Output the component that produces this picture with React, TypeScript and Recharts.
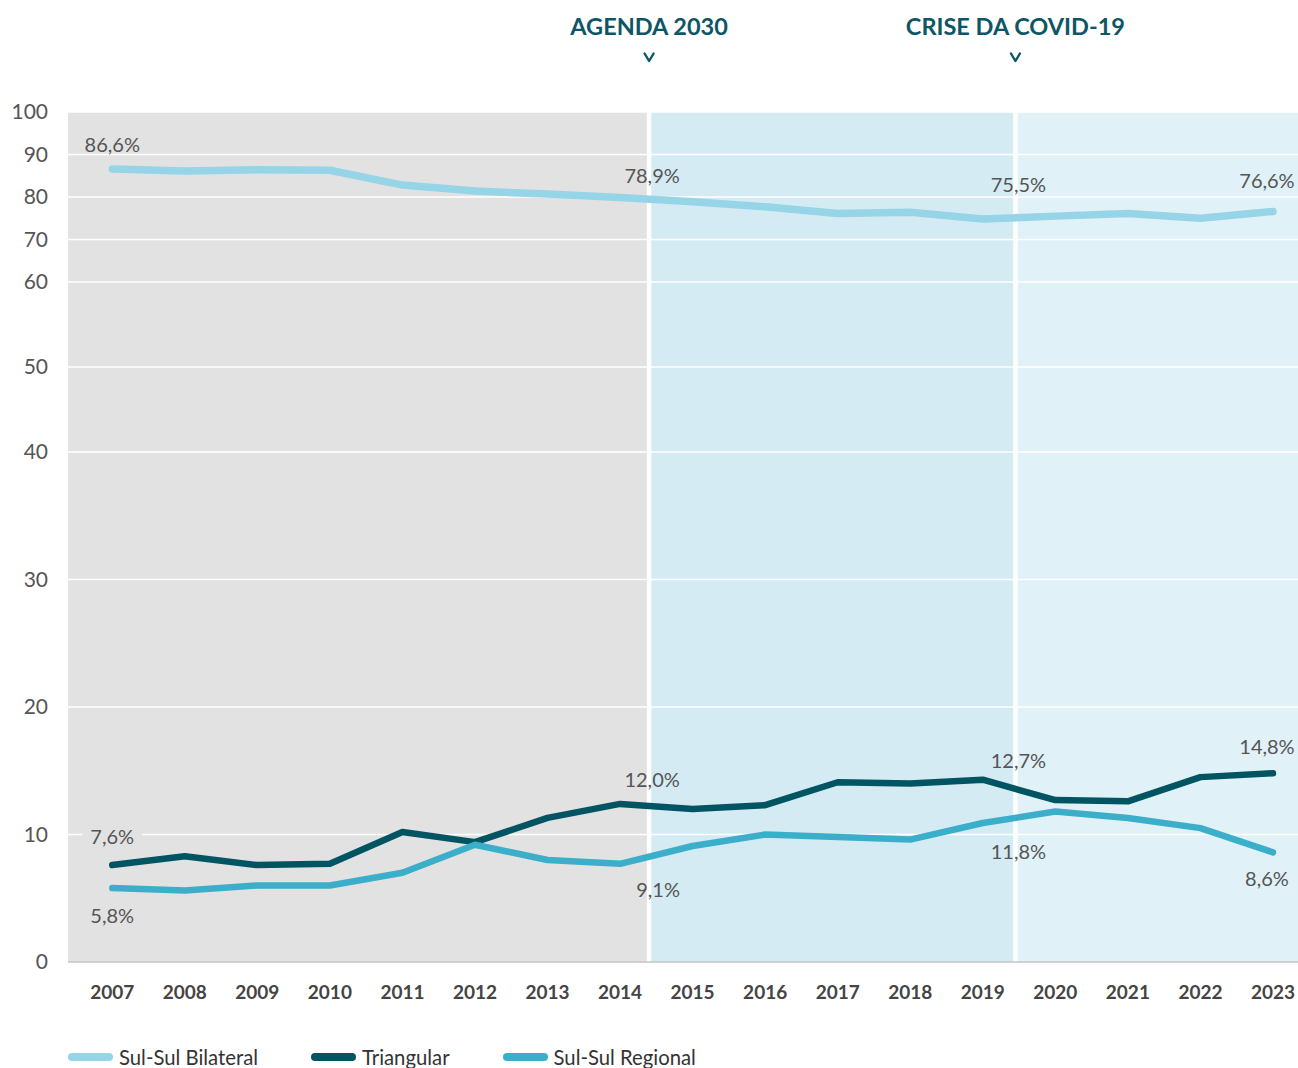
import React from 'react';
import {
  LineChart,
  Line,
  XAxis,
  YAxis,
  ReferenceArea,
  ReferenceLine,
  ReferenceDot,
  Legend,
} from 'recharts';

// ---------------- data ----------------
const YEARS = [2007, 2008, 2009, 2010, 2011, 2012, 2013, 2014, 2015, 2016, 2017, 2018, 2019, 2020, 2021, 2022, 2023];
const BILATERAL = [86.6, 86.1, 86.4, 86.3, 82.8, 81.4, 80.7, 79.9, 78.9, 77.7, 76.1, 76.4, 74.8, 75.5, 76.1, 75.0, 76.6];
const TRIANGULAR = [7.6, 8.3, 7.6, 7.7, 10.2, 9.4, 11.3, 12.4, 12.0, 12.3, 14.1, 14.0, 14.3, 12.7, 12.6, 14.5, 14.8];
const REGIONAL = [5.8, 5.6, 6.0, 6.0, 7.0, 9.2, 8.0, 7.7, 9.1, 10.0, 9.8, 9.6, 10.9, 11.8, 11.3, 10.5, 8.6];
const Y_TICKS = [0, 10, 20, 30, 40, 50, 60, 70, 80, 90, 100];
const GRID_VALUES = [10, 20, 30, 40, 50, 60, 70, 80, 90, 100];
const EVENT_LABELS = ['AGENDA 2030', 'CRISE DA COVID-19'];
const EVENT_YEARS = [2014.4, 2019.45];
const X_DOMAIN = [2006.39, 2023.345];

// Y axis breaks: value breakpoints and the share of the axis height they reach
const Y_BREAKS = [0, 40, 60, 100];
const Y_BREAK_SHARE = [0, 0.6, 0.8, 1];

// ---------------- config ----------------
const SERIES = [
  { key: 'bilateral', name: 'Sul-Sul Bilateral', color: '#96d4e7', width: 7.5, values: BILATERAL },
  { key: 'triangular', name: 'Triangular', color: '#015462', width: 6.5, values: TRIANGULAR },
  { key: 'regional', name: 'Sul-Sul Regional', color: '#3bafc9', width: 6.5, values: REGIONAL },
];

// which values get a label, and where (anchor: year of point, or an event line)
const LABEL_LAYOUT = [
  { key: 'bilateral', year: 2007, anchor: 'point', dx: 0, dy: -24 },
  { key: 'bilateral', year: 2015, anchor: 'agenda', dx: 3, dy: -26 },
  { key: 'bilateral', year: 2020, anchor: 'covid', dx: 3, dy: -31 },
  { key: 'bilateral', year: 2023, anchor: 'point', dx: -6, dy: -31 },
  { key: 'triangular', year: 2007, anchor: 'point', dx: 0, dy: -28, bg: '#e2e2e2' },
  { key: 'triangular', year: 2015, anchor: 'agenda', dx: 3, dy: -29 },
  { key: 'triangular', year: 2020, anchor: 'covid', dx: 3, dy: -39 },
  { key: 'triangular', year: 2023, anchor: 'point', dx: -6, dy: -27 },
  { key: 'regional', year: 2007, anchor: 'point', dx: 0, dy: 28 },
  { key: 'regional', year: 2015, anchor: 'agenda', dx: 9, dy: 44 },
  { key: 'regional', year: 2020, anchor: 'covid', dx: 3, dy: 40 },
  { key: 'regional', year: 2023, anchor: 'point', dx: -6, dy: 26 },
];

const FONT = 'Lato, "Open Sans", sans-serif';

// ---------------- piecewise linear y scale ----------------
function piecewiseScale(): any {
  let dom: number[] = [0, 100];
  let rng: number[] = [0, 1];
  const frac = (v: number) => {
    for (let i = 1; i < Y_BREAKS.length; i++) {
      if (v <= Y_BREAKS[i] || i === Y_BREAKS.length - 1) {
        const t = (v - Y_BREAKS[i - 1]) / (Y_BREAKS[i] - Y_BREAKS[i - 1]);
        return Y_BREAK_SHARE[i - 1] + t * (Y_BREAK_SHARE[i] - Y_BREAK_SHARE[i - 1]);
      }
    }
    return 1;
  };
  const unfrac = (f: number) => {
    for (let i = 1; i < Y_BREAK_SHARE.length; i++) {
      if (f <= Y_BREAK_SHARE[i] || i === Y_BREAK_SHARE.length - 1) {
        const t = (f - Y_BREAK_SHARE[i - 1]) / (Y_BREAK_SHARE[i] - Y_BREAK_SHARE[i - 1]);
        return Y_BREAKS[i - 1] + t * (Y_BREAKS[i] - Y_BREAKS[i - 1]);
      }
    }
    return Y_BREAKS[Y_BREAKS.length - 1];
  };
  const s: any = (v: any) => rng[0] + frac(Number(v)) * (rng[1] - rng[0]);
  s.domain = (d?: any) => {
    if (d === undefined) return dom.slice();
    dom = Array.from(d).map(Number);
    return s;
  };
  s.range = (r?: any) => {
    if (r === undefined) return rng.slice();
    rng = Array.from(r).map(Number);
    return s;
  };
  s.copy = () => piecewiseScale().domain(dom).range(rng);
  s.ticks = () => Y_TICKS.slice();
  s.tickFormat = () => (v: any) => String(v);
  s.nice = () => s;
  s.invert = (px: number) => unfrac((px - rng[0]) / (rng[1] - rng[0]));
  return s;
}

const Y_SCALE = piecewiseScale();

const data = YEARS.map((year, i) => ({
  year,
  bilateral: BILATERAL[i],
  triangular: TRIANGULAR[i],
  regional: REGIONAL[i],
}));

const fmt = (v: number) => v.toFixed(1).replace('.', ',') + '%';

const EventLabel = (props: any) => {
  const { viewBox, text } = props;
  if (!viewBox) return null;
  const x = viewBox.x;
  const top = viewBox.y;
  const cy = top - 55;
  return (
    <g>
      <text
        x={x}
        y={top - 77}
        textAnchor="middle"
        fill="#0d5665"
        fontFamily={FONT}
        fontWeight={700}
        fontSize={23.5}
      >
        {text}
      </text>
      <path
        d={`M ${x - 4.5} ${cy - 3.5} L ${x} ${cy + 4} L ${x + 4.5} ${cy - 3.5}`}
        fill="none"
        stroke="#0d5665"
        strokeWidth={2.4}
        strokeLinecap="round"
        strokeLinejoin="round"
      />
    </g>
  );
};

const ValueLabel = (props: any) => {
  const { viewBox, text, dx, dy, bg } = props;
  if (!viewBox) return null;
  const cx = viewBox.x + (viewBox.width || 0) / 2 + dx;
  const cy = viewBox.y + (viewBox.height || 0) / 2 + dy;
  return (
    <g>
      {bg ? <rect x={cx - 30} y={cy - 11} width={60} height={22} fill={bg} /> : null}
      <text
        x={cx}
        y={cy}
        dy="0.36em"
        textAnchor="middle"
        fill="#555555"
        fontFamily={FONT}
        fontSize={20}
      >
        {text}
      </text>
    </g>
  );
};

const LegendContent = () => (
  <div
    style={{
      display: 'flex',
      alignItems: 'center',
      height: 24,
      fontFamily: FONT,
      fontSize: 20.3,
      color: '#333333',
      whiteSpace: 'nowrap',
    }}
  >
    {SERIES.map((s) => (
      <div key={s.key} style={{ display: 'flex', alignItems: 'center', marginRight: 53 }}>
        <span
          style={{
            display: 'inline-block',
            width: 45,
            height: 8,
            borderRadius: 4,
            background: s.color,
            marginRight: 6,
          }}
        />
        <span>{s.name}</span>
      </div>
    ))}
  </div>
);

export default function App() {
  const anchorX = (anchor: string, year: number) =>
    anchor === 'agenda' ? EVENT_YEARS[0] : anchor === 'covid' ? EVENT_YEARS[1] : year;

  return (
    <div style={{ position: 'absolute', left: 0, top: 0, width: 1298, height: 1068, background: '#ffffff' }}>
      <LineChart
        width={1298}
        height={1068}
        data={data}
        margin={{ top: 112, right: 0, left: 0, bottom: 0 }}
      >
        <XAxis
          dataKey="year"
          type="number"
          domain={X_DOMAIN}
          allowDataOverflow
          ticks={YEARS}
          interval={0}
          tickLine={false}
          tickSize={0}
          tickMargin={24}
          height={82}
          axisLine={{ stroke: '#c4c4c4', strokeWidth: 1.5 }}
          tick={{ fill: '#444444', fontSize: 19, fontWeight: 700, fontFamily: FONT }}
        />
        <YAxis
          type="number"
          domain={[0, 100]}
          scale={Y_SCALE}
          ticks={Y_TICKS}
          interval={0}
          width={68}
          axisLine={false}
          tickLine={false}
          tickSize={0}
          tickMargin={20}
          tick={{ fill: '#555555', fontSize: 21, fontFamily: FONT }}
        />

        <ReferenceArea x1={X_DOMAIN[0]} x2={EVENT_YEARS[0]} y1={0} y2={100} fill="#e2e2e2" fillOpacity={1} stroke="none" zIndex={10} />
        <ReferenceArea x1={EVENT_YEARS[0]} x2={EVENT_YEARS[1]} y1={0} y2={100} fill="#d4ebf4" fillOpacity={1} stroke="none" zIndex={10} />
        <ReferenceArea x1={EVENT_YEARS[1]} x2={X_DOMAIN[1]} y1={0} y2={100} fill="#e1f1f8" fillOpacity={1} stroke="none" zIndex={10} />

        {GRID_VALUES.map((v) => (
          <ReferenceLine key={'g' + v} y={v} stroke="#ffffff" strokeWidth={1.5} zIndex={20} />
        ))}

        {EVENT_YEARS.map((yr, i) => (
          <ReferenceLine
            key={'e' + i}
            x={yr}
            stroke="#ffffff"
            strokeWidth={4.5}
            zIndex={30}
            label={(p: any) => <EventLabel {...p} text={EVENT_LABELS[i]} />}
          />
        ))}

        {SERIES.map((s) => (
          <Line
            key={s.key}
            type="linear"
            dataKey={s.key}
            name={s.name}
            stroke={s.color}
            strokeWidth={s.width}
            strokeLinecap="round"
            strokeLinejoin="round"
            dot={false}
            activeDot={false}
            isAnimationActive={false}
          />
        ))}

        {LABEL_LAYOUT.map((l, i) => {
          const series = SERIES.find((s) => s.key === l.key)!;
          const value = series.values[YEARS.indexOf(l.year)];
          return (
            <ReferenceDot
              key={'l' + i}
              x={anchorX(l.anchor, l.year)}
              y={value}
              r={0}
              fill="none"
              stroke="none"
              label={(p: any) => (
                <ValueLabel {...p} text={fmt(value)} dx={l.dx} dy={l.dy} bg={(l as any).bg} />
              )}
            />
          );
        })}

        <Legend
          verticalAlign="bottom"
          content={<LegendContent />}
          wrapperStyle={{ left: 68, top: 1045, width: 'auto', height: 24 }}
        />
      </LineChart>
    </div>
  );
}
